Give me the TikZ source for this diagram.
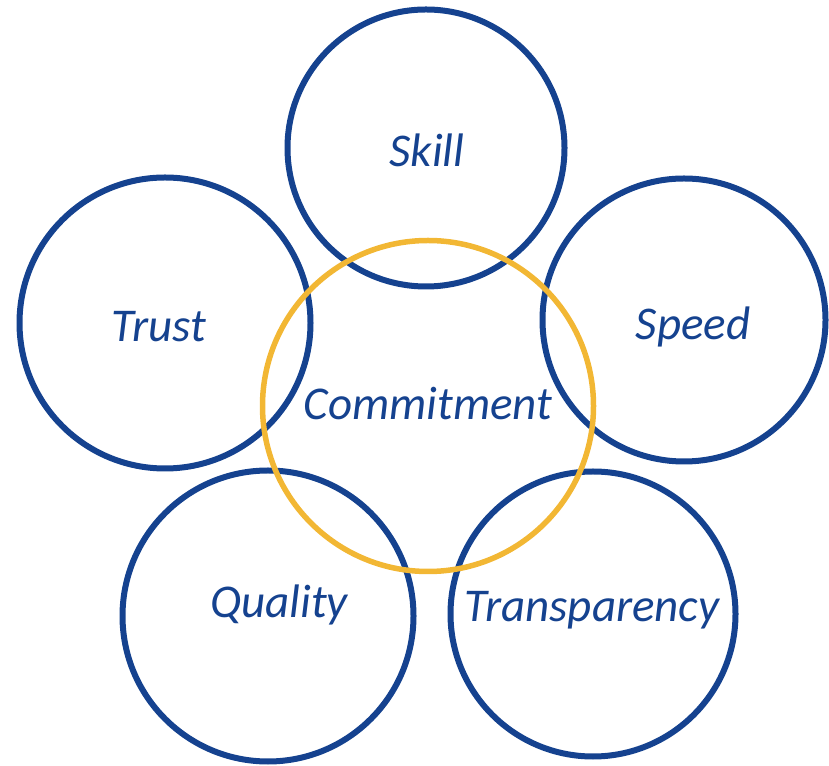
\documentclass[tikz,border=0pt]{standalone}
\usepackage{fontspec}
\setmainfont{Carlito}
\definecolor{ringblue}{RGB}{21,66,143}
\definecolor{ringyellow}{RGB}{242,183,52}
\tikzset{
  ring/.style={circle, draw=ringblue, line width=6pt, inner sep=0pt, minimum size=#1},
  yring/.style={circle, draw=ringyellow, line width=5.5pt, inner sep=0pt, minimum size=#1},
  lbl/.style={anchor=base, text=ringblue, font=\fontsize{47}{56}\selectfont\itshape, inner sep=0pt}
}
\begin{document}
\begin{tikzpicture}[x=1pt,y=1pt]
\useasboundingbox (0,0) rectangle (829,765);
\node[ring=277pt] (skill) at (426,617) {};
\node[ring=291pt] (trust) at (165,442) {};
\node[ring=283pt] (speed) at (684,445) {};
\node[ring=291pt] (quality) at (268,149) {};
\node[ring=285pt] (transp) at (593,151) {};
\node[yring=331pt] (commit) at (428,359) {};
\node[lbl] (tskill) at (427,598) {Skill};
\node[lbl] (ttrust) at (159,423) {Trust};
\node[lbl] (tspeed) at (693,425) {Speed};
\node[lbl] (tcommit) at (428,345) {Commitment};
\node[lbl] (tquality) at (279,147) {Quality};
\node[lbl] (ttransp) at (592,143) {Transparency};
\end{tikzpicture}
\end{document}
